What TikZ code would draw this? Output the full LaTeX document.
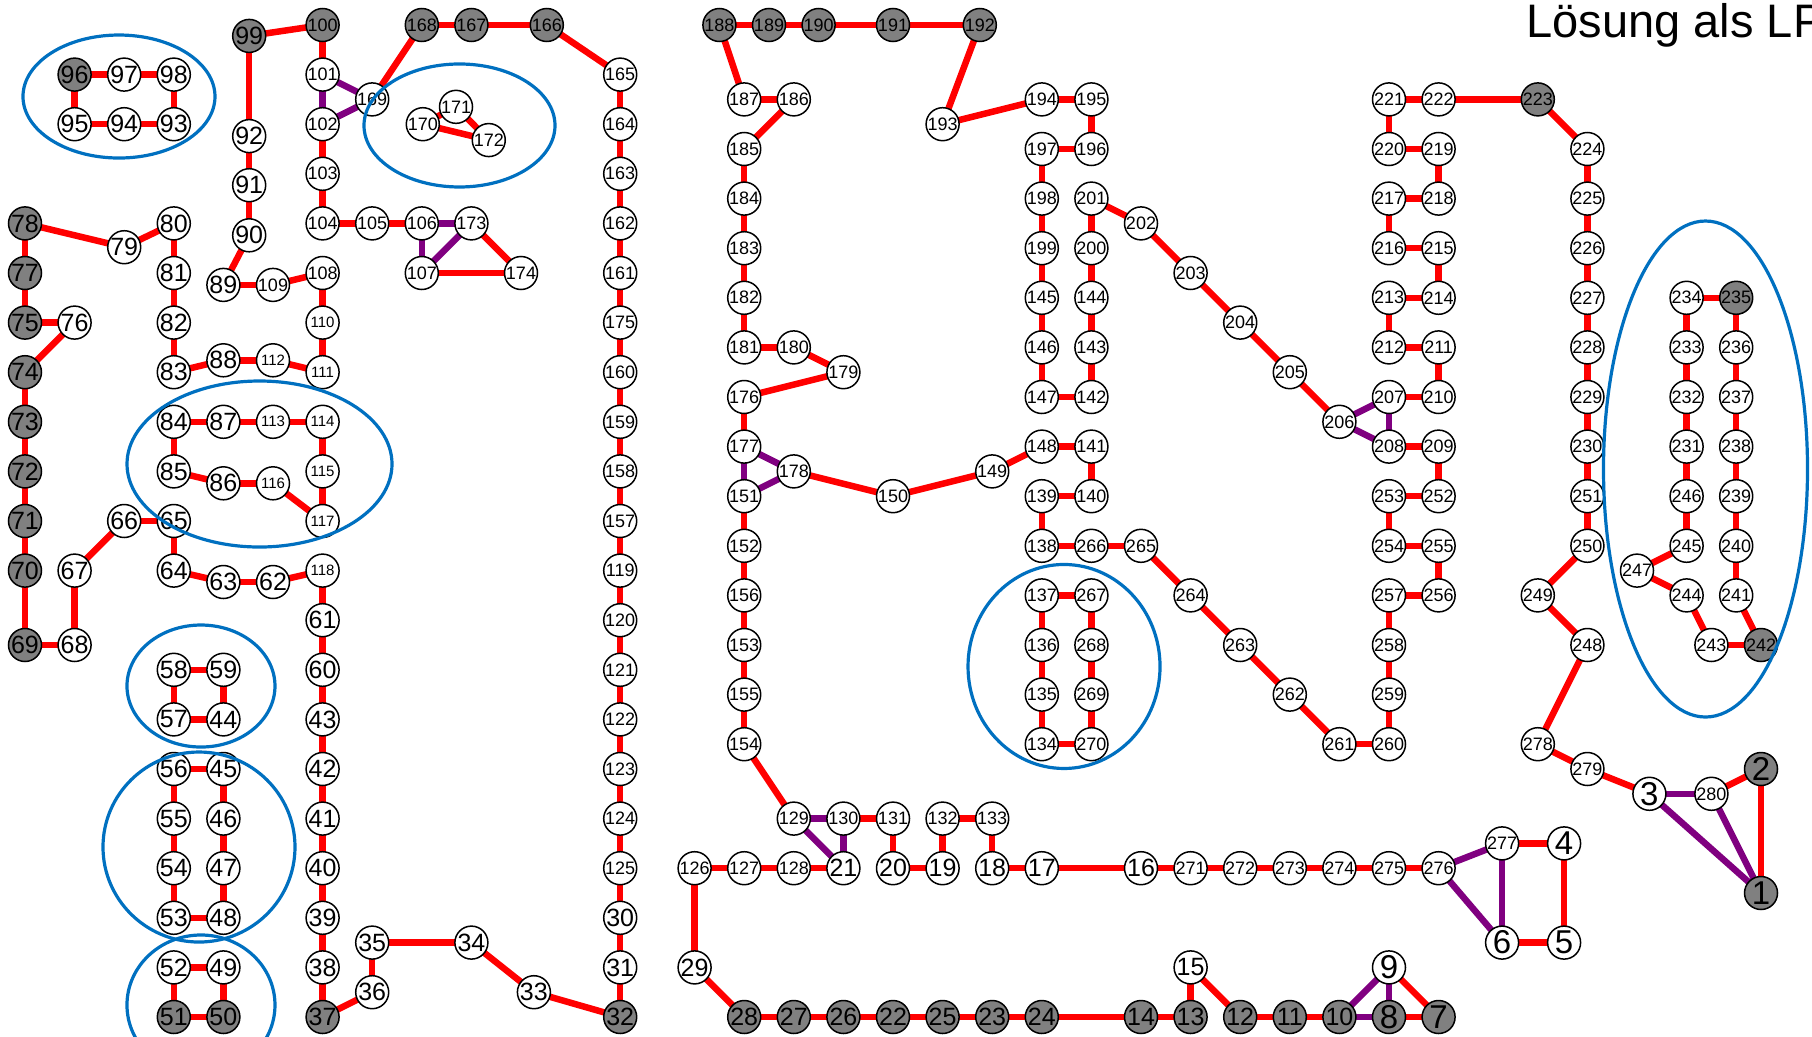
\documentclass[tikz,border=0pt]{standalone}
\usepackage{fontspec}
\setmainfont{Liberation Sans}
\pgfdeclarelayer{bg}
\pgfsetlayers{bg,main}
\definecolor{ered}{RGB}{255,0,0}
\definecolor{epur}{RGB}{128,0,128}
\definecolor{eblue}{RGB}{0,112,192}
\definecolor{ngray}{RGB}{128,128,128}
\tikzset{
  nd/.style={circle, draw=black, line width=1.5pt, fill=white, minimum size=33pt, inner sep=0pt},
  gnd/.style={nd, fill=ngray},
  redE/.style={draw=ered, line width=6.5pt},
  purE/.style={draw=epur, line width=6.5pt},
  grp/.style={draw=eblue, line width=3.2pt},
}
\newcommand{\NdTxt}[1]{\makebox[0pt]{%
 \ifnum#1<10 \fontsize{33}{33}\selectfont
 \else\ifnum#1<100 \fontsize{25}{25}\selectfont
 \else\ifnum#1<110 \fontsize{18}{18}\selectfont
 \else\ifnum#1<119 \fontsize{15}{15}\selectfont
 \else \fontsize{18}{18}\selectfont\fi\fi\fi\fi #1}}
\begin{document}
\begin{tikzpicture}[x=49.6pt,y=-49.6pt]
\useasboundingbox (-0.504032,-0.504032) rectangle (36.028226,20.383065);
% white nodes
\foreach \n/\x/\y in {
97/2/1, 98/3/1, 95/1/2, 94/2/2, 93/3/2,
92/4.52/2.24, 91/4.52/3.23, 90/4.52/4.24, 89/4/5.24, 109/5/5.24, 108/6/5, 110/6/6, 111/6/7, 112/5/6.76, 88/4/6.76,
101/6/1, 102/6/2, 103/6/3, 104/6/4, 105/7/4, 106/8/4, 107/8/5, 173/9/4, 174/10/5,
169/7/1.5, 170/8.02/2, 171/8.69/1.65, 172/9.35/2.32,
79/2/4.48, 80/3/4, 81/3/5, 82/3/6, 83/3/7, 76/1/6,
84/3/8, 87/4/8, 113/5/8, 114/6/8, 85/3/9, 86/4/9.24, 116/5/9.24, 115/6/9, 117/6/10,
66/2/10, 65/3/10, 67/1/11, 68/1/12.5, 64/3/11, 63/4/11.23, 62/5/11.23, 118/6/11, 61/6/12, 60/6/13,
58/3/13, 59/4/13, 57/3/14, 44/4/14, 43/6/14,
56/3/15, 45/4/15, 42/6/15, 55/3/16, 46/4/16, 41/6/16, 54/3/17, 47/4/17, 40/6/17, 53/3/18, 48/4/18, 39/6/18, 52/3/19, 49/4/19, 38/6/19,
35/7/18.5, 36/7/19.5, 34/9/18.5, 33/10.26/19.5,
165/12/1, 164/12/2, 163/12/3, 162/12/4, 161/12/5, 175/12/6, 160/12/7, 159/12/8, 158/12/9, 157/12/10, 119/12/11, 120/12/12, 121/12/13, 122/12/14, 123/12/15, 124/12/16, 125/12/17, 30/12/18, 31/12/19,
187/14.5/1.5, 186/15.5/1.5, 185/14.5/2.5, 184/14.5/3.5, 183/14.5/4.5, 182/14.5/5.5, 181/14.5/6.5, 180/15.5/6.5, 179/16.5/7, 176/14.5/7.5, 177/14.5/8.5, 178/15.5/9, 151/14.5/9.5, 150/17.5/9.5, 152/14.5/10.5, 156/14.5/11.5, 153/14.5/12.5, 155/14.5/13.5, 154/14.5/14.5,
129/15.5/16, 130/16.5/16, 131/17.5/16, 126/13.5/17, 127/14.5/17, 128/15.5/17, 21/16.5/17, 20/17.5/17, 29/13.5/19,
132/18.5/16, 133/19.5/16, 19/18.5/17, 18/19.5/17, 17/20.5/17, 16/22.5/17, 271/23.5/17, 272/24.5/17, 273/25.5/17, 274/26.5/17, 275/27.5/17, 276/28.5/17,
15/23.5/19, 9/27.5/19,
193/18.5/2, 194/20.5/1.5, 195/21.5/1.5, 197/20.5/2.5, 196/21.5/2.5, 198/20.5/3.5, 201/21.5/3.5, 199/20.5/4.5, 200/21.5/4.5, 145/20.5/5.5, 144/21.5/5.5, 146/20.5/6.5, 143/21.5/6.5, 147/20.5/7.5, 142/21.5/7.5, 148/20.5/8.5, 141/21.5/8.5, 149/19.5/9, 139/20.5/9.5, 140/21.5/9.5, 138/20.5/10.5, 266/21.5/10.5, 265/22.5/10.5, 137/20.5/11.5, 267/21.5/11.5, 136/20.5/12.5, 268/21.5/12.5, 135/20.5/13.5, 269/21.5/13.5, 134/20.5/14.5, 270/21.5/14.5,
202/22.5/4, 203/23.5/5, 204/24.5/6, 205/25.5/7, 206/26.5/8,
264/23.5/11.5, 263/24.5/12.5, 262/25.5/13.5, 261/26.5/14.5,
221/27.5/1.5, 222/28.5/1.5, 220/27.5/2.5, 219/28.5/2.5, 217/27.5/3.5, 218/28.5/3.5, 216/27.5/4.5, 215/28.5/4.5, 213/27.5/5.5, 214/28.5/5.5, 212/27.5/6.5, 211/28.5/6.5, 207/27.5/7.5, 210/28.5/7.5, 208/27.5/8.5, 209/28.5/8.5, 253/27.5/9.5, 252/28.5/9.5, 254/27.5/10.5, 255/28.5/10.5, 257/27.5/11.5, 256/28.5/11.5, 258/27.5/12.5, 259/27.5/13.5, 260/27.5/14.5,
224/31.5/2.5, 225/31.5/3.5, 226/31.5/4.5, 227/31.5/5.5, 228/31.5/6.5, 229/31.5/7.5, 230/31.5/8.5, 251/31.5/9.5, 250/31.5/10.5, 249/30.5/11.5, 248/31.5/12.5, 278/30.5/14.5, 279/31.5/15,
234/33.5/5.5, 233/33.5/6.5, 236/34.5/6.5, 232/33.5/7.5, 237/34.5/7.5, 231/33.5/8.5, 238/34.5/8.5, 246/33.5/9.5, 239/34.5/9.5, 245/33.5/10.5, 240/34.5/10.5, 244/33.5/11.5, 241/34.5/11.5, 247/32.5/11, 243/34/12.5,
3/32.75/15.5, 280/34/15.5, 277/29.78/16.5, 4/31.03/16.5, 6/29.78/18.5, 5/31.03/18.5}
  \node[nd] (n\n) at (\x,\y) {\NdTxt{\n}};
% grey nodes
\foreach \n/\x/\y in {
96/1/1, 99/4.52/0.22, 100/6/0, 168/8/0, 167/9/0, 166/10.52/0,
78/0/4, 77/0/5, 75/0/6, 74/0/7, 73/0/8, 72/0/9, 71/0/10, 70/0/11, 69/0/12.5,
51/3/20, 50/4/20, 37/6/20, 32/12/20,
28/14.5/20, 27/15.5/20, 26/16.5/20, 22/17.5/20, 25/18.5/20, 23/19.5/20, 24/20.5/20, 14/22.5/20, 13/23.5/20, 12/24.5/20, 11/25.5/20, 10/26.5/20, 8/27.5/20, 7/28.5/20,
188/14/0, 189/15/0, 190/16/0, 191/17.5/0, 192/19.25/0,
223/30.5/1.5, 235/34.5/5.5, 242/35/12.5, 2/35/15, 1/35/17.5}
  \node[gnd] (n\n) at (\x,\y) {\NdTxt{\n}};
% edges
\begin{pgfonlayer}{bg}
\foreach \a/\b in {
96/97, 97/98, 98/93, 93/94, 94/95, 95/96,
99/100, 99/92, 92/91, 91/90, 90/89, 89/109, 109/108, 108/110, 110/111, 111/112, 112/88, 88/83,
100/101, 102/103, 103/104, 104/105, 105/106, 107/174, 173/174, 168/169, 168/167, 167/166, 166/165, 165/164, 164/163, 163/162, 162/161, 161/175, 175/160, 160/159, 159/158, 158/157, 157/119, 119/120, 120/121, 121/122, 122/123, 123/124, 124/125, 125/30, 30/31, 31/32,
170/172, 171/172, 170/171,
78/79, 79/80, 80/81, 81/82, 82/83, 78/77, 77/75, 75/76, 76/74, 74/73, 73/72, 72/71, 71/70, 70/69, 69/68, 68/67, 67/66, 66/65, 65/64, 64/63, 63/62, 62/118, 118/61, 61/60, 60/43, 43/42, 42/41, 41/40, 40/39, 39/38, 38/37, 37/36, 36/35, 35/34, 34/33, 33/32,
84/87, 87/113, 113/114, 114/115, 115/117, 117/116, 116/86, 86/85, 85/84,
58/59, 59/44, 44/57, 57/58,
56/45, 45/46, 46/47, 47/48, 48/53, 53/54, 54/55, 55/56,
52/49, 49/50, 50/51, 51/52,
188/189, 189/190, 190/191, 191/192, 192/193, 193/194, 194/195, 195/196, 196/197, 197/198, 198/199, 199/145, 145/146, 146/147, 147/142, 142/143, 143/144, 144/200, 200/201, 201/202, 202/203, 203/204, 204/205, 205/206,
207/210, 210/211, 211/212, 212/213, 213/214, 214/215, 215/216, 216/217, 217/218, 218/219, 219/220, 220/221, 221/222, 222/223, 223/224, 224/225, 225/226, 226/227, 227/228, 228/229, 229/230, 230/251, 251/250, 250/249, 249/248, 248/278, 278/279, 279/3, 280/2, 2/1,
208/209, 209/252, 252/253, 253/254, 254/255, 255/256, 256/257, 257/258, 258/259, 259/260, 260/261, 261/262, 262/263, 263/264, 264/265, 265/266, 266/138, 138/139, 139/140, 140/141, 141/148, 148/149, 149/150, 150/178,
177/176, 176/179, 179/180, 180/181, 181/182, 182/183, 183/184, 184/185, 185/186, 186/187, 187/188,
151/152, 152/156, 156/153, 153/155, 155/154, 154/129, 130/131, 131/20, 20/19, 19/132, 132/133, 133/18, 18/17, 17/16, 16/271, 271/272, 272/273, 273/274, 274/275, 275/276, 277/4, 4/5, 5/6,
21/128, 128/127, 127/126, 126/29, 29/28, 28/27, 27/26, 26/22, 22/25, 25/23, 23/24, 24/14, 14/13, 13/15, 15/12, 12/11, 11/10, 9/7, 8/7,
234/235, 235/236, 236/237, 237/238, 238/239, 239/240, 240/241, 241/242, 242/243, 243/244, 244/247, 247/245, 245/246, 246/231, 231/232, 232/233, 233/234,
134/135, 135/136, 136/137, 137/267, 267/268, 268/269, 269/270, 270/134}
  \draw[redE] (n\a.center) -- (n\b.center);
\foreach \a/\b in {
101/102, 101/169, 102/169, 106/173, 106/107, 107/173, 206/207, 206/208, 207/208, 178/177, 178/151, 177/151, 129/130, 129/21, 130/21, 276/277, 276/6, 277/6, 3/280, 3/1, 280/1, 10/9, 10/8, 9/8}
  \draw[purE] (n\a.center) -- (n\b.center);
\end{pgfonlayer}
% subtour ellipses
\draw[grp] (1.895,1.442) ellipse [x radius=96pt, y radius=61.5pt];
\draw[grp] (8.760,2.026) ellipse [x radius=95.5pt, y radius=61.5pt];
\draw[grp] (4.728,8.851) ellipse [x radius=132.5pt, y radius=83pt];
\draw[grp] (3.548,13.327) ellipse [x radius=74pt, y radius=61pt];
\draw[grp] (3.508,16.573) ellipse [x radius=96pt, y radius=95pt];
\draw[grp] (3.548,19.758) ellipse [x radius=74pt, y radius=70pt];
\draw[grp] (20.948,12.933) ellipse [x radius=96pt, y radius=102pt];
\draw[grp] (33.881,8.952) ellipse [x radius=102pt, y radius=248pt];
% title
\node[anchor=base west, inner sep=0pt, font=\fontsize{47}{47}\selectfont] (title) at (30.27,0.242) {Lösung als LP};
\end{tikzpicture}
\end{document}
